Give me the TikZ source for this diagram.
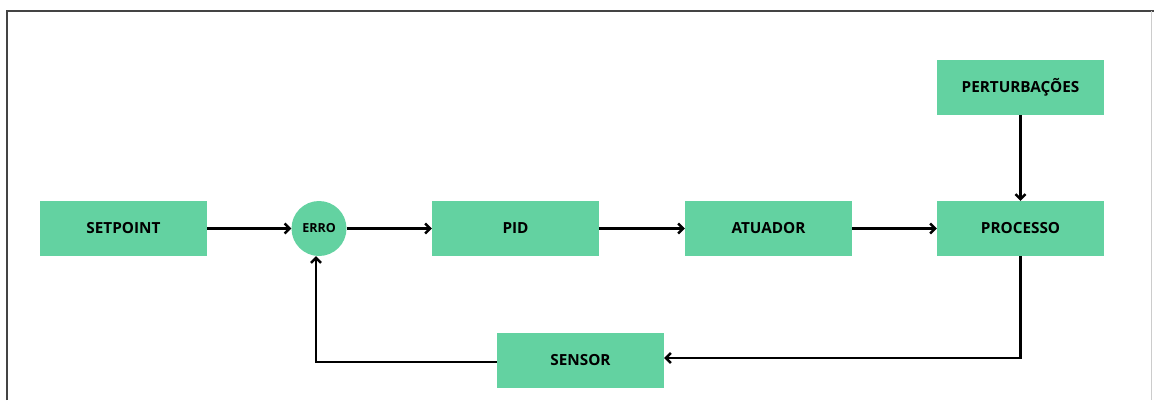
\documentclass[tikz,border=0pt]{standalone}
\usepackage{fontspec}
\setmainfont{Open Sans}
\usetikzlibrary{arrows.meta}
\definecolor{blockgreen}{HTML}{63D2A1}
\definecolor{framegrey}{HTML}{444444}
\tikzset{
  block/.style={fill=blockgreen, draw=none, minimum width=167pt, minimum height=55pt,
    inner sep=0pt, font=\fontsize{15.3}{17}\selectfont\bfseries},
  junction/.style={circle, fill=blockgreen, draw=none, minimum size=55pt, inner sep=0pt,
    font=\fontsize{12.5}{14}\selectfont\bfseries},
  flow/.style={line width=2.6pt, -{Straight Barb[length=5pt, width=10pt, line width=2.4pt]}},
  link/.style={line width=2.6pt}
}
\begin{document}
\begin{tikzpicture}[x=1pt, y=-1pt]
  \useasboundingbox (0,0) rectangle (1154,400);
  % frame of the page
  \draw[framegrey, line width=1.6pt] (7,400) -- (7,11) -- (1154,11);
  \draw[black!20, line width=0.8pt] (1151,11) -- (1151,400);

  % blocks
  \node[block] (setpoint) at (123.5,228.5) {SETPOINT};
  \node[junction] (erro) at (319,228.5) {ERRO};
  \node[block] (pid) at (515.5,228.5) {PID};
  \node[block] (atuador) at (768.5,228.5) {ATUADOR};
  \node[block] (processo) at (1020.5,228.5) {PROCESSO};
  \node[block] (pert) at (1020.5,87.5) {PERTURBAÇÕES};
  \node[block] (sensor) at (580.5,360.5) {SENSOR};

  % forward path
  \draw[flow] (setpoint.east) -- (erro.west);
  \draw[flow] (erro.east) -- (pid.west);
  \draw[flow] (pid.east) -- (atuador.west);
  \draw[flow] (atuador.east) -- (processo.west);
  \draw[flow] (pert.south) -- (processo.north);

  % feedback path
  \coordinate (fbr) at (1020.5,358);
  \coordinate (fbl) at (316,362);
  \draw[flow] (processo.south) -- (fbr) -- (sensor.east |- fbr);
  \draw[flow] (sensor.west |- fbl) -- (fbl) -- (fbl |- erro.south);
\end{tikzpicture}
\end{document}
